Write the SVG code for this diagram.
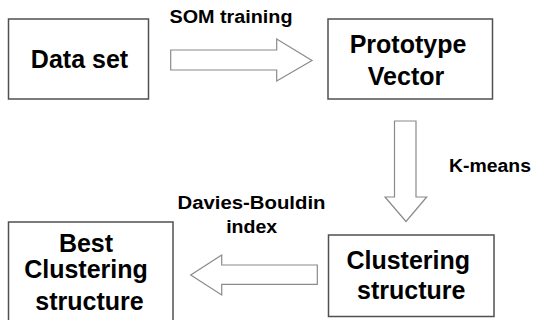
<svg xmlns="http://www.w3.org/2000/svg" width="534" height="320" viewBox="0 0 534 320">
<style>
.box{fill:#fff;stroke:#505050;stroke-width:1.5}
.arr{fill:#fff;stroke:#8a8a8a;stroke-width:1.2;stroke-linejoin:miter}
.nl{font-family:"Liberation Sans",Arial,sans-serif;font-weight:bold;font-size:25px;fill:#000;text-anchor:middle}
.el{font-family:"Liberation Sans",Arial,sans-serif;font-weight:bold;font-size:18px;fill:#000;text-anchor:middle}
</style>
<rect width="534" height="320" fill="#fff"/>
<g id="connectors">
<polygon class="arr" points="170.7,50 276.7,50 276.7,39 312,60.5 276.7,81 276.7,70 170.7,70"/>
<polygon class="arr" points="394.5,121 416,121 416,197 426.7,197 406,221.5 385,197 394.5,197"/>
<polygon class="arr" points="317.3,265 221.7,265 221.7,255 190.7,275 221.7,295 221.7,284.3 317.3,284.3"/>
<text class="el" x="231" y="23.3" textLength="123" lengthAdjust="spacingAndGlyphs">SOM training</text>
<text class="el" x="490" y="171.7" textLength="82" lengthAdjust="spacingAndGlyphs">K-means</text>
<text class="el" x="251.5" y="209.3" textLength="148" lengthAdjust="spacingAndGlyphs">Davies-Bouldin</text>
<text class="el" x="251.7" y="233.3" textLength="51" lengthAdjust="spacingAndGlyphs">index</text>
</g>
<g id="data-set">
<rect class="box" x="8.5" y="19" width="140" height="80"/>
<text class="nl" x="79.5" y="68">Data set</text>
</g>
<g id="prototype-vector">
<rect class="box" x="328" y="19" width="164.5" height="80"/>
<text class="nl" x="408" y="53.3">Prototype</text>
<text class="nl" x="406" y="85">Vector</text>
</g>
<g id="clustering-structure">
<rect class="box" x="328.5" y="235" width="165.5" height="81.5"/>
<text class="nl" x="408.2" y="269.3">Clustering</text>
<text class="nl" x="411.3" y="299">structure</text>
</g>
<g id="best-clustering-structure">
<rect class="box" x="8.5" y="222" width="164.5" height="110"/>
<text class="nl" x="86" y="251.7">Best</text>
<text class="nl" x="86" y="278.3">Clustering</text>
<text class="nl" x="89.5" y="310">structure</text>
</g>
</svg>
